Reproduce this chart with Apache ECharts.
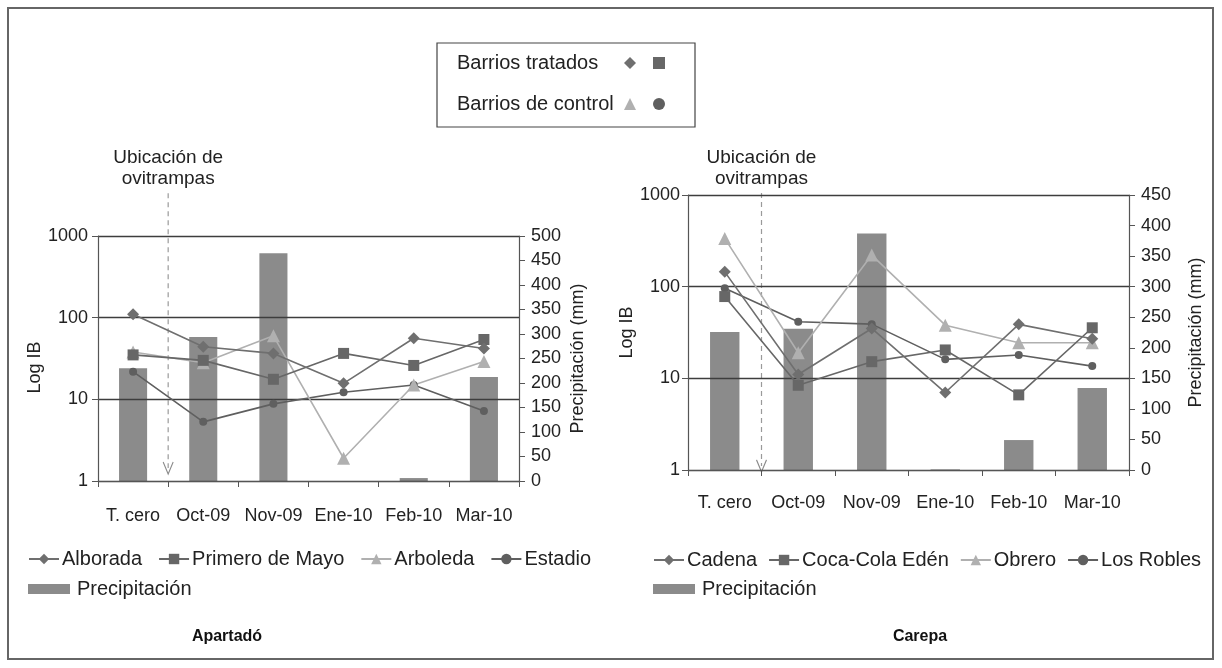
<!DOCTYPE html>
<html>
<head>
<meta charset="utf-8">
<script src="https://cdn.jsdelivr.net/npm/echarts@6/dist/echarts.min.js"></script>
<style>
html,body{margin:0;padding:0;background:#fff;}
#chart{width:1222px;height:668px;}
</style>
</head>
<body>
<div id="chart"></div>
<script>
// ---- data ----
const categories = ['T. cero', 'Oct-09', 'Nov-09', 'Ene-10', 'Feb-10', 'Mar-10'];

// Apartadó
const apPrecip = [230, 294, 465, 0, 6, 212];
const alborada = [110, 44, 36.5, 15.7, 56, 42];
const primeroMayo = [35, 30, 17.6, 36.5, 26, 54];
const arboleda = [38, 28, 60, 1.9, 15, 29];
const estadio = [21.8, 5.3, 8.8, 12.2, 15, 7.2];

// Carepa
const caPrecip = [226, 231, 387, 1, 49, 134];
const cadena = [145, 11, 35, 7, 38.8, 27];
const cocaCola = [78, 8.4, 15.2, 20.4, 6.6, 35.6];
const obrero = [336, 19, 221, 38, 24.4, 24.4];
const losRobles = [96, 41.4, 39, 16.1, 18, 13.6];

// "Ubicación de ovitrampas" marker: between T. cero and Oct-09 (category position 0.5)
const markerX = 0.5;
const apMarker = [1.175, 0.053];
const caMarker = [1.007, 0.015];

// ---- styles ----
const FONT = '"Liberation Sans", Arial, Helvetica, sans-serif';
const TXT = '#222';
const AX = '#555';
const C_DIAMOND = '#6f6f6f';
const C_SQUARE = '#676767';
const C_TRI = '#b0b0b0';
const C_CIRC = '#5f5f5f';
const C_BAR = '#8b8b8b';

const chart = echarts.init(document.getElementById('chart'), null, {renderer: 'canvas'});

function catAxis(grid, margin) {
  return {
    type: 'category', gridIndex: grid, data: categories, boundaryGap: true,
    axisLine: {show: true, onZero: false, lineStyle: {color: AX, width: 1.2}},
    axisTick: {show: true, length: 6, interval: 0, lineStyle: {color: AX}},
    axisLabel: {fontSize: 18, color: TXT, margin: margin, fontFamily: FONT, interval: 0},
    splitLine: {show: false}, z: 4
  };
}
function hiddenX(grid) {
  return {type: 'value', gridIndex: grid, min: -0.5, max: 5.5, show: false,
          axisLine: {onZero: false}};
}
function logAxis(grid, gap, pad, margin) {
  return {
    type: 'log', logBase: 10, min: 1, max: 1000, gridIndex: grid, position: 'left',
    name: 'Log IB', nameLocation: 'middle', nameGap: gap, nameRotate: 90,
    nameTextStyle: {fontSize: 18, color: TXT, fontFamily: FONT, padding: pad},
    axisLine: {show: true, onZero: false, lineStyle: {color: AX, width: 1.2}},
    axisTick: {show: true, length: 6, lineStyle: {color: AX}},
    axisLabel: {fontSize: 18, color: TXT, margin: margin, fontFamily: FONT,
                formatter: function (v) { return String(Math.round(v)); }},
    splitLine: {show: true, lineStyle: {color: '#3d3d3d', width: 1.3}},
    z: 3
  };
}
function precipAxis(grid, max, gap) {
  return {
    type: 'value', gridIndex: grid, position: 'right', min: 0, max: max, interval: 50,
    name: 'Precipitación (mm)', nameLocation: 'middle', nameGap: gap, nameRotate: 90,
    nameTextStyle: {fontSize: 18, color: TXT, fontFamily: FONT},
    axisLine: {show: true, onZero: false, lineStyle: {color: AX, width: 1.2}},
    axisTick: {show: true, length: 6, lineStyle: {color: AX}},
    axisLabel: {fontSize: 18, color: TXT, margin: 12, fontFamily: FONT},
    splitLine: {show: false}, z: 3
  };
}
function hiddenY(grid) {
  return {type: 'value', gridIndex: grid, min: 0, max: 1, show: false,
          axisLine: {onZero: false}};
}
function lineSeries(name, data, symbol, size, color, xi, yi) {
  return {
    type: 'line', name: name, data: data, xAxisIndex: xi, yAxisIndex: yi,
    symbol: symbol, symbolSize: size, showAllSymbol: true,
    lineStyle: {color: color, width: 1.6},
    itemStyle: {color: color},
    z: 5
  };
}
function barSeries(data, xi, yi) {
  return {
    type: 'bar', name: 'Precipitación', data: data, xAxisIndex: xi, yAxisIndex: yi,
    barWidth: '40%', itemStyle: {color: C_BAR}, z: 1
  };
}
function markerSeries(vals, xi, yi) {
  return {
    type: 'line', name: '_marker', xAxisIndex: xi, yAxisIndex: yi, clip: false,
    silent: true, z: 2,
    lineStyle: {color: '#9a9a9a', width: 1.2, type: [5, 4]},
    data: [
      {value: [markerX, vals[0]], symbol: 'circle', symbolSize: 0,
       label: {show: true, position: 'top', distance: 4,
               formatter: 'Ubicación de\novitrampas',
               fontSize: 19, lineHeight: 21, color: TXT, fontFamily: FONT}},
      {value: [markerX, vals[1]], symbol: 'path://M0,0L5,10L10,0', symbolSize: [10, 12],
       itemStyle: {color: 'none', borderColor: '#8a8a8a', borderWidth: 1.2}}
    ]
  };
}
function legendRow(left, top, names, opts) {
  return Object.assign({
    left: left, top: top, orient: 'horizontal', data: names, padding: 0,
    itemGap: 16, itemWidth: 30, itemHeight: 13, selectedMode: false,
    textStyle: {fontSize: 20, color: TXT, fontFamily: FONT, padding: [0, 0, 0, -2]}
  }, opts || {});
}

const option = {
  backgroundColor: '#fff',
  animation: false,
  textStyle: {fontFamily: FONT},
  grid: [
    {left: 98, top: 236, width: 421, height: 245, containLabel: false},
    {left: 688, top: 195, width: 441, height: 275, containLabel: false}
  ],
  xAxis: [catAxis(0, 26), catAxis(1, 24), hiddenX(0), hiddenX(1)],
  yAxis: [
    logAxis(0, 48, [0, 18, 0, 0], 10),
    precipAxis(0, 500, 50),
    logAxis(1, 34, [0, 0, 0, 0], 8),
    precipAxis(1, 450, 58),
    hiddenY(0), hiddenY(1)
  ],
  legend: [
    legendRow(28, 549, ['Alborada', 'Primero de Mayo', 'Arboleda', 'Estadio']),
    legendRow(28, 579, [{name: 'Precipitación', icon: 'rect'}],
              {itemWidth: 42, itemHeight: 10, textStyle: {fontSize: 20, color: TXT, fontFamily: FONT, padding: [0, 0, 0, 2]}}),
    legendRow(653, 550, ['Cadena', 'Coca-Cola Edén', 'Obrero', 'Los Robles'], {itemGap: 11}),
    legendRow(653, 579, [{name: 'Precipitación', icon: 'rect'}],
              {itemWidth: 42, itemHeight: 10, textStyle: {fontSize: 20, color: TXT, fontFamily: FONT, padding: [0, 0, 0, 2]}})
  ],
  series: [
    barSeries(apPrecip, 0, 1),
    markerSeries(apMarker, 2, 4),
    lineSeries('Estadio', estadio, 'circle', 8, C_CIRC, 0, 0),
    lineSeries('Arboleda', arboleda, 'triangle', 13, C_TRI, 0, 0),
    lineSeries('Primero de Mayo', primeroMayo, 'rect', 11, C_SQUARE, 0, 0),
    lineSeries('Alborada', alborada, 'diamond', 12, C_DIAMOND, 0, 0),

    barSeries(caPrecip, 1, 3),
    markerSeries(caMarker, 3, 5),
    lineSeries('Los Robles', losRobles, 'circle', 8, C_CIRC, 1, 2),
    lineSeries('Obrero', obrero, 'triangle', 13, C_TRI, 1, 2),
    lineSeries('Coca-Cola Edén', cocaCola, 'rect', 11, C_SQUARE, 1, 2),
    lineSeries('Cadena', cadena, 'diamond', 12, C_DIAMOND, 1, 2)
  ],
  graphic: [
    {type: 'rect', shape: {x: 8, y: 8, width: 1205, height: 651},
     style: {fill: 'none', stroke: '#666', lineWidth: 2}, silent: true},
    {type: 'rect', shape: {x: 437, y: 43, width: 258, height: 84},
     style: {fill: '#fff', stroke: '#444', lineWidth: 1.2}, silent: true},
    {type: 'text', x: 457, y: 63, style: {text: 'Barrios tratados', fontSize: 20, fill: TXT, fontFamily: FONT, verticalAlign: 'middle'}},
    {type: 'text', x: 457, y: 104, style: {text: 'Barrios de control', fontSize: 20, fill: TXT, fontFamily: FONT, verticalAlign: 'middle'}},
    {type: 'polygon', shape: {points: [[630, 57], [636, 63], [630, 69], [624, 63]]}, style: {fill: C_DIAMOND}},
    {type: 'rect', shape: {x: 653, y: 57, width: 12, height: 12}, style: {fill: C_SQUARE}},
    {type: 'polygon', shape: {points: [[630, 98], [636, 110], [624, 110]]}, style: {fill: C_TRI}},
    {type: 'circle', shape: {cx: 659, cy: 104, r: 6}, style: {fill: C_CIRC}},
    {type: 'text', x: 227, y: 637, style: {text: 'Apartadó', fontSize: 16, fontWeight: 'bold', fill: '#111', fontFamily: FONT, align: 'center', verticalAlign: 'middle'}},
    {type: 'text', x: 920, y: 637, style: {text: 'Carepa', fontSize: 16, fontWeight: 'bold', fill: '#111', fontFamily: FONT, align: 'center', verticalAlign: 'middle'}}
  ]
};
chart.setOption(option);
</script>
</body>
</html>
